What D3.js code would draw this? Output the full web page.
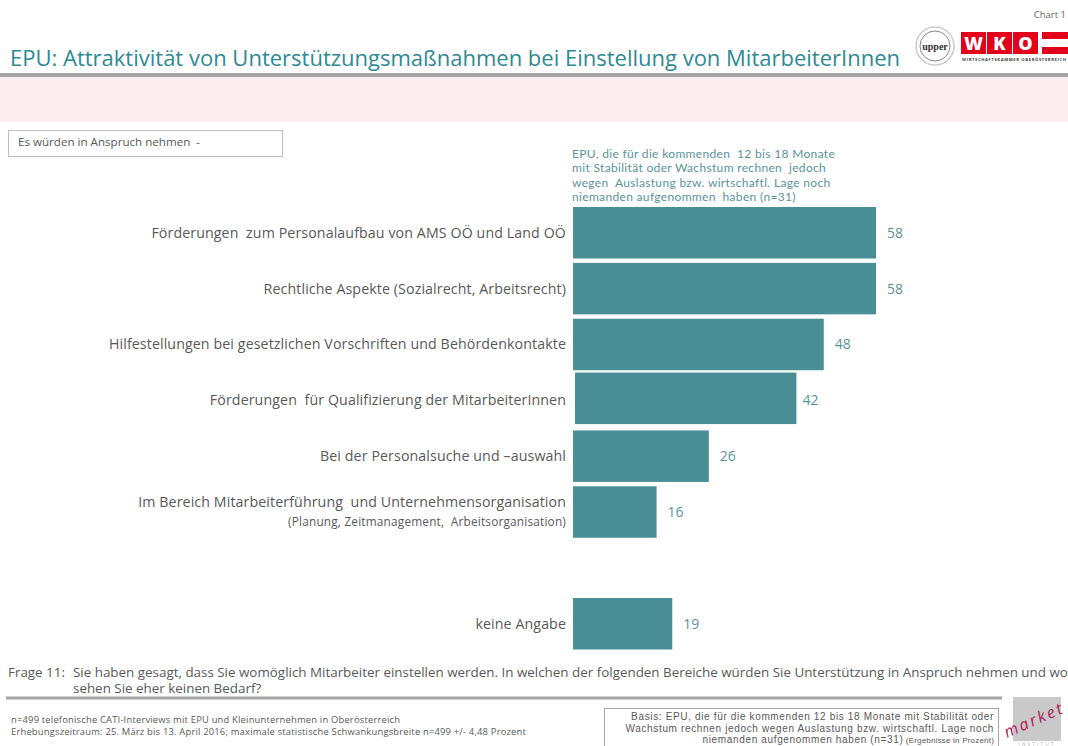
<!DOCTYPE html>
<html>
<head>
<meta charset="utf-8">
<script src="https://cdn.jsdelivr.net/npm/d3@7"></script>
<style>
  html, body { margin: 0; padding: 0; background: #fff; overflow: hidden; }
  text { font-family: "Open Sans", sans-serif; white-space: pre; }
</style>
</head>
<body>
<div id="chart"></div>
<script>
// chart values
const categories = [
  "Förderungen  zum Personalaufbau von AMS OÖ und Land OÖ",
  "Rechtliche Aspekte (Sozialrecht, Arbeitsrecht)",
  "Hilfestellungen bei gesetzlichen Vorschriften und Behördenkontakte",
  "Förderungen  für Qualifizierung der MitarbeiterInnen",
  "Bei der Personalsuche und –auswahl",
  "Im Bereich Mitarbeiterführung  und Unternehmensorganisation",
  " ",
  "keine Angabe"
];
const values = [58, 58, 48, 42, 26, 16, null, 19];
const seriesLabel = [
  "EPU, die für die kommenden  12 bis 18 Monate",
  "mit Stabilität oder Wachstum rechnen  jedoch",
  "wegen  Auslastung bzw. wirtschaftl. Lage noch",
  "niemanden aufgenommen  haben (n=31)"
];
const footLeft = [
  "n=499 telefonische CATI-Interviews mit EPU und Kleinunternehmen in Oberösterreich",
  "Erhebungszeitraum: 25. März bis 13. April 2016; maximale statistische Schwankungsbreite n=499 +/- 4,48 Prozent"
];
const basis = [
  "Basis: EPU, die für die kommenden 12 bis 18 Monate mit Stabilität oder",
  "Wachstum rechnen jedoch wegen Auslastung bzw. wirtschaftl. Lage noch",
  "niemanden aufgenommen haben (n=31)"
];

const width = 1068, height = 746;
const teal = "#4a8f96", tealText = "#5a9499", grey = "#595959";

const svg = d3.select("#chart").append("svg")
  .attr("width", width).attr("height", height);

// header
svg.append("text").attr("x", 1066).attr("y", 18).attr("text-anchor", "end")
  .attr("font-size", 9.5).attr("fill", "#666").text("Chart 1");
svg.append("text").attr("x", 10).attr("y", 66).attr("font-size", 21.5)
  .attr("fill", "#2f8a93").attr("textLength", 890).attr("lengthAdjust", "spacingAndGlyphs")
  .text("EPU: Attraktivität von Unterstützungsmaßnahmen bei Einstellung von MitarbeiterInnen");
svg.append("rect").attr("x", 0).attr("y", 73).attr("width", width).attr("height", 4).attr("fill", "#a6a6a6");
svg.append("rect").attr("x", 0).attr("y", 77).attr("width", width).attr("height", 45).attr("fill", "#fdeef1");

// upper logo
svg.append("circle").attr("cx", 935).attr("cy", 46).attr("r", 19).attr("fill", "#fff").attr("stroke", "#ccc").attr("stroke-width", 1.5);
svg.append("circle").attr("cx", 935).attr("cy", 46).attr("r", 15).attr("fill", "#fff").attr("stroke", "#888").attr("stroke-width", 1);
svg.append("text").attr("x", 935).attr("y", 50).attr("text-anchor", "middle").attr("font-size", 10)
  .attr("font-weight", 700).style("font-family", "'Liberation Serif', serif").attr("fill", "#333").text("upper");

// WKO logo
const wko = ["W", "K", "O"];
const logoX = d3.scaleBand().domain(wko).range([961, 1038]).paddingInner(0.04);
svg.selectAll(".wko").data(wko).join("rect").attr("class", "wko")
  .attr("x", d => logoX(d)).attr("y", 32).attr("width", logoX.bandwidth()).attr("height", 22).attr("fill", "#e2001a");
svg.selectAll(".wkot").data(wko).join("text").attr("class", "wkot")
  .attr("x", d => logoX(d) + logoX.bandwidth() / 2).attr("y", 49.5).attr("text-anchor", "middle")
  .attr("font-size", 18).attr("font-weight", 800).attr("fill", "#fff").text(d => d);
svg.append("rect").attr("x", 1042).attr("y", 32).attr("width", 26).attr("height", 7).attr("fill", "#e2001a");
svg.append("rect").attr("x", 1042).attr("y", 47).attr("width", 26).attr("height", 7).attr("fill", "#e2001a");
svg.append("text").attr("x", 962).attr("y", 61).attr("font-size", 4.2).attr("font-weight", 700).attr("fill", "#444")
  .attr("textLength", 104).text("WIRTSCHAFTSKAMMER OBERÖSTERREICH");

// box top left
svg.append("rect").attr("x", 8.5).attr("y", 130.5).attr("width", 274).attr("height", 26)
  .attr("fill", "#fff").attr("stroke", "#bfbfbf");
svg.append("text").attr("x", 18).attr("y", 146).attr("font-size", 11.6).attr("fill", grey).text("Es würden in Anspruch nehmen  -");

// series label
svg.selectAll(".series-label").data(seriesLabel).join("text").attr("class", "series-label")
  .attr("x", 572).attr("y", (d, i) => 157.5 + i * 14.6)
  .attr("font-size", 12).attr("letter-spacing", 0.33).style("font-family", "Lato, sans-serif")
  .attr("fill", tealText).text(d => d);

// scales
const x = d3.scaleLinear().domain([0, 58]).range([573, 876]);
const y = d3.scaleBand().domain(categories).range([207, 649.5]).paddingInner(0.078).paddingOuter(0);

// bars
const rows = categories.map((c, i) => ({ c, v: values[i] })).filter(d => d.v !== null);
// the fourth bar sits a little out of line in the original slide
const shifted = d => d.c === categories[3];
svg.selectAll(".bar").data(rows).join("rect").attr("class", "bar")
  .attr("x", d => x(0) + (shifted(d) ? 2 : 0)).attr("y", d => y(d.c) - (shifted(d) ? 2 : 0))
  .attr("width", d => x(d.v) - x(0) + (shifted(d) ? 2 : 0)).attr("height", y.bandwidth())
  .attr("fill", teal);

// value labels
svg.selectAll(".val").data(rows).join("text").attr("class", "val")
  .attr("x", d => x(d.v) + (shifted(d) ? 10 : 11)).attr("y", d => y(d.c) + y.bandwidth() / 2 + 5)
  .attr("font-size", 14).attr("fill", tealText).text(d => d.v);

// category labels
svg.selectAll(".cat").data(rows).join("text").attr("class", "cat")
  .attr("x", 566).attr("text-anchor", "end")
  .attr("y", d => y(d.c) + y.bandwidth() / 2 + (d.c.startsWith("Im Bereich") ? -5 : 5))
  .attr("font-size", 14.2).attr("letter-spacing", 0.11).attr("fill", grey).text(d => d.c);
svg.append("text").attr("x", 566).attr("text-anchor", "end")
  .attr("y", y(categories[5]) + 40).attr("font-size", 11.8).attr("letter-spacing", 0.2).attr("fill", grey)
  .text("(Planung, Zeitmanagement,  Arbeitsorganisation)");

// question
svg.append("text").attr("x", 8).attr("y", 677).attr("font-size", 13.4).attr("fill", grey).text("Frage 11:");
svg.append("text").attr("x", 73).attr("y", 677).attr("font-size", 13.4).attr("fill", grey)
  .text("Sie haben gesagt, dass Sie womöglich Mitarbeiter einstellen werden. In welchen der folgenden Bereiche würden Sie Unterstützung in Anspruch nehmen und wo");
svg.append("text").attr("x", 73).attr("y", 693).attr("font-size", 13.4).attr("fill", grey)
  .text("sehen Sie eher keinen Bedarf?");
svg.append("rect").attr("x", 6).attr("y", 696.5).attr("width", 996).attr("height", 3).attr("fill", "#a6a6a6");

// footnote left
svg.selectAll(".foot").data(footLeft).join("text").attr("class", "foot")
  .attr("x", 11).attr("y", (d, i) => 723 + i * 12)
  .attr("font-size", 9.4).attr("letter-spacing", 0.2).attr("fill", grey).text(d => d);

// basis box
svg.append("rect").attr("x", 604.5).attr("y", 708.5).attr("width", 394).attr("height", 42)
  .attr("fill", "#fff").attr("stroke", "#a6a6a6");
const basisText = svg.selectAll(".basis").data(basis).join("text").attr("class", "basis")
  .attr("x", 994).attr("y", (d, i) => 720 + i * 11.5).attr("text-anchor", "end")
  .attr("font-size", 10).attr("letter-spacing", 0.65).style("font-family", "'Liberation Sans', sans-serif")
  .attr("fill", grey).text(d => d);
basisText.filter((d, i) => i === 2).append("tspan").attr("font-size", 8).attr("letter-spacing", 0.2)
  .text(" (Ergebnisse in Prozent)");

// market logo
svg.append("rect").attr("x", 1013).attr("y", 697).attr("width", 48).attr("height", 44).attr("fill", "#c9c9c9");
svg.append("text").attr("transform", "translate(1007,738) rotate(-24)")
  .attr("font-size", 16).attr("font-style", "italic").attr("letter-spacing", 2.3).attr("fill", "#b0185a")
  .text("market");
svg.append("text").attr("x", 1037).attr("y", 746).attr("text-anchor", "middle")
  .attr("font-size", 5).attr("letter-spacing", 2).attr("fill", "#bbb").text("INSTITUT");
</script>
</body>
</html>
